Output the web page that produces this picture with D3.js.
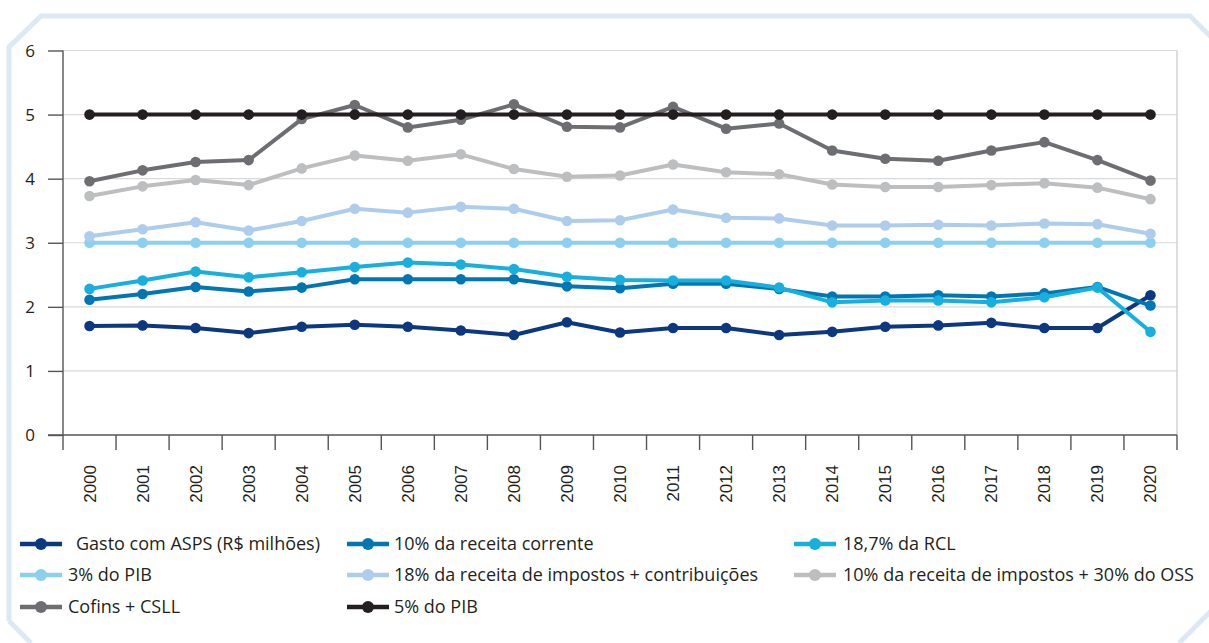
<!DOCTYPE html>
<html>
<head>
<meta charset="utf-8">
<script src="https://cdn.jsdelivr.net/npm/d3@7"></script>
<style>
body{margin:0;background:#fff}
svg{display:block}
.grid line{stroke:#d9d9d9;stroke-width:1.2}
.axis path,.axis line{stroke:#555;stroke-width:1.4}
.ylab text{font-family:"Open Sans",sans-serif;font-size:17px;fill:#231f20}
.xlab text{font-family:"Liberation Sans",Arial,sans-serif;font-size:17px;fill:#231f20}
.legend text{font-family:"Open Sans",sans-serif;font-size:18px;fill:#231f20}
</style>
</head>
<body>
<div id="chart"></div>
<script>
const years=d3.range(2000,2021);
const yTicks=[0,1,2,3,4,5,6];

const gastoASPS=[1.70,1.71,1.67,1.59,1.69,1.72,1.69,1.63,1.56,1.76,1.60,1.67,1.67,1.56,1.61,1.69,1.71,1.75,1.67,1.67,2.18];
const rec10=[2.11,2.20,2.31,2.24,2.30,2.43,2.43,2.43,2.43,2.32,2.29,2.36,2.36,2.28,2.16,2.16,2.18,2.16,2.21,2.31,2.02];
const rcl187=[2.28,2.41,2.55,2.46,2.54,2.62,2.69,2.66,2.59,2.47,2.42,2.41,2.41,2.30,2.07,2.10,2.10,2.07,2.15,2.30,1.61];
const pib3=[3,3,3,3,3,3,3,3,3,3,3,3,3,3,3,3,3,3,3,3,3];
const imp18=[3.10,3.21,3.32,3.19,3.34,3.53,3.47,3.56,3.53,3.34,3.35,3.52,3.39,3.38,3.27,3.27,3.28,3.27,3.30,3.29,3.14];
const imp10oss30=[3.73,3.88,3.98,3.90,4.16,4.36,4.28,4.38,4.15,4.03,4.05,4.22,4.10,4.07,3.91,3.87,3.87,3.90,3.93,3.86,3.68];
const cofins=[3.96,4.13,4.26,4.29,4.93,5.15,4.80,4.92,5.16,4.81,4.80,5.12,4.78,4.86,4.44,4.31,4.28,4.44,4.57,4.29,3.97];
const pib5=[5,5,5,5,5,5,5,5,5,5,5,5,5,5,5,5,5,5,5,5,5];

const seriesNames=['Gasto com ASPS (R$ milhões)','10% da receita corrente','18,7% da RCL','3% do PIB',
  '18% da receita de impostos + contribuições','10% da receita de impostos + 30% do OSS','Cofins + CSLL','5% do PIB'];
const seriesValues=[gastoASPS,rec10,rcl187,pib3,imp18,imp10oss30,cofins,pib5];
const colors=['#0b387e','#0077b3','#17b0de','#8bd0ef','#aecdec','#bcbec0','#6d6e71','#231f20'];

const Wt=1209,Ht=643;
const svg=d3.select('#chart').append('svg').attr('width',Wt).attr('height',Ht);

// frame
svg.append('path')
  .attr('d','M9,621 L9,47 L41,16 L1190,16 L1212,38 M1212,610 L1179,643 M9,621 L31,643')
  .attr('fill','none').attr('stroke','#dce9f5').attr('stroke-width',5);

const L=63,R=1177,T=50.5,B=435;
const x=d3.scaleBand().domain(years).range([L,R]);
const y=d3.scaleLinear().domain([0,6]).range([B,T]);

// grid
svg.append('g').attr('class','grid').selectAll('line')
  .data(yTicks.filter(d=>d>0)).enter().append('line')
  .attr('x1',L).attr('x2',R).attr('y1',d=>y(d)).attr('y2',d=>y(d));
svg.append('line').attr('x1',R).attr('x2',R).attr('y1',T).attr('y2',B)
  .attr('stroke','#c8c8c8').attr('stroke-width',1.2);

// y axis
const yAx=svg.append('g').attr('class','axis')
  .attr('transform',`translate(${L},0)`)
  .call(d3.axisLeft(y).tickValues(yTicks).tickSize(15).tickFormat(''));
yAx.select('.domain').attr('d',`M0,${T}V${B}`);
svg.append('g').attr('class','ylab').selectAll('text')
  .data(yTicks).enter().append('text')
  .attr('x',30).attr('y',d=>y(d)+6).attr('text-anchor','middle').text(d=>d);

// x axis
const xAx=svg.append('g').attr('class','axis')
  .attr('transform',`translate(0,${B})`);
xAx.append('line').attr('x1',48).attr('x2',R).attr('y1',0).attr('y2',0);
xAx.selectAll('.tk').data(d3.range(years.length+1)).enter().append('line')
  .attr('class','tk')
  .attr('x1',i=>L+i*x.step()).attr('x2',i=>L+i*x.step())
  .attr('y1',0).attr('y2',15);
svg.append('g').attr('class','xlab').selectAll('text')
  .data(years).enter().append('text')
  .attr('transform',d=>`translate(${x(d)+x.bandwidth()/2+6},465) rotate(-90)`)
  .attr('text-anchor','end').text(d=>d);

// lines
const line=d3.line().x((d,i)=>x(years[i])+x.bandwidth()/2).y(d=>y(d));
const plot=svg.append('g');
seriesValues.forEach((vals,k)=>{
  const s=plot.append('g');
  s.append('path').datum(vals).attr('d',line)
    .attr('fill','none').attr('stroke',colors[k]).attr('stroke-width',4).attr('stroke-linejoin','round');
  s.selectAll('circle').data(vals).enter().append('circle')
    .attr('cx',(d,i)=>x(years[i])+x.bandwidth()/2).attr('cy',d=>y(d))
    .attr('r',5.3).attr('fill',colors[k]);
});

// legend
const legPos=[[20,544,76],[347,544,394],[794,544,843],[20,575,68],[347,575,394],[794,575,843],[20,607,68],[347,607,394]];
const leg=svg.append('g').attr('class','legend');
seriesNames.forEach((n,k)=>{
  const [lx,ly,tx]=legPos[k];
  leg.append('line').attr('x1',lx).attr('x2',lx+42).attr('y1',ly).attr('y2',ly)
    .attr('stroke',colors[k]).attr('stroke-width',4.5);
  leg.append('circle').attr('cx',lx+21).attr('cy',ly).attr('r',6).attr('fill',colors[k]);
  leg.append('text').attr('x',tx).attr('y',ly+6).text(n);
});
</script>
</body>
</html>
